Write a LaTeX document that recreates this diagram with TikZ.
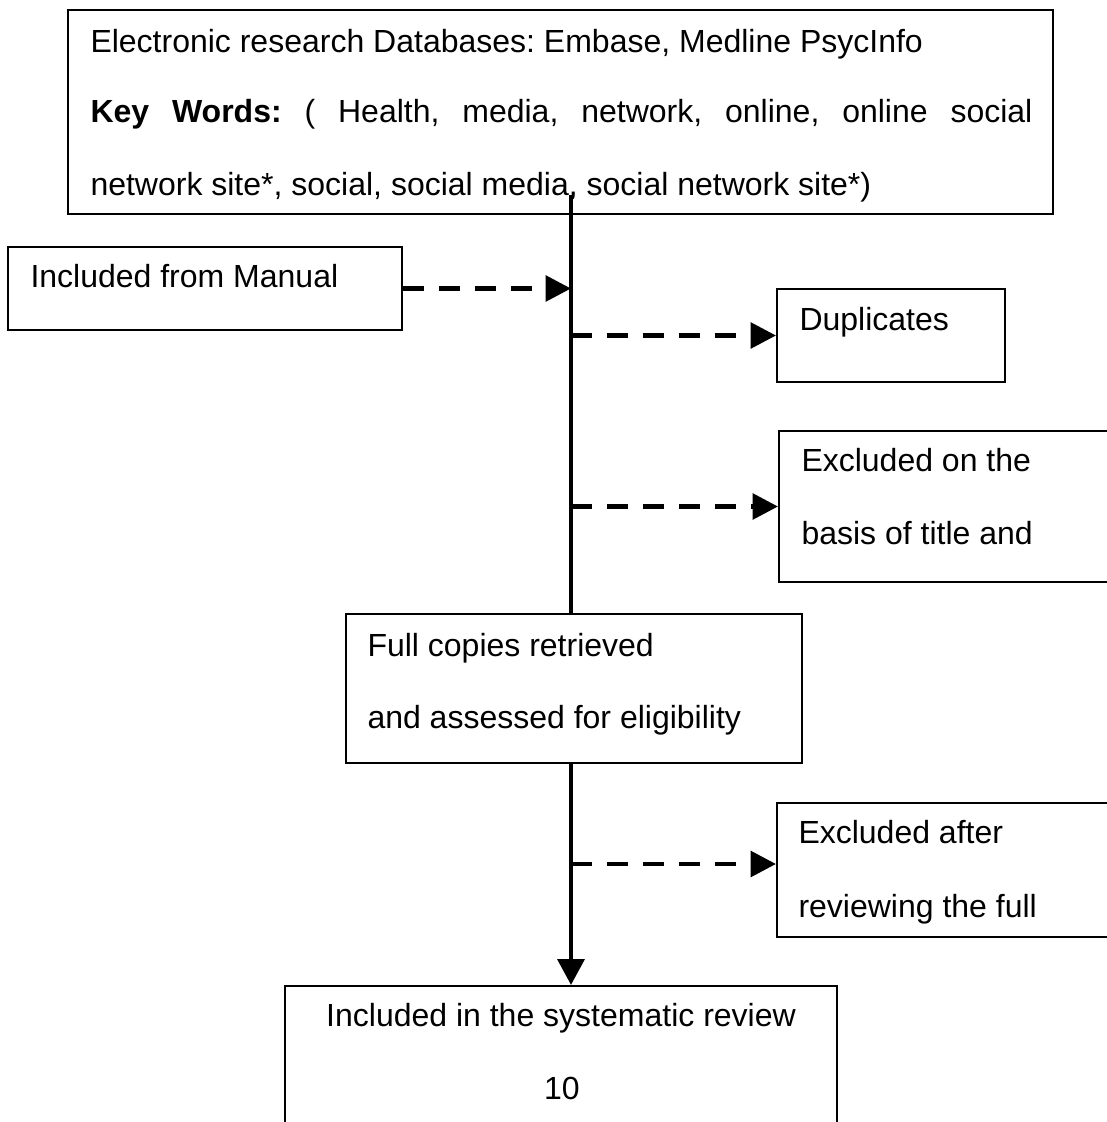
\documentclass[tikz,border=0pt]{standalone}
\usepackage{fontspec}
\setmainfont{Liberation Sans}
\usetikzlibrary{arrows.meta,fit}

\tikzset{every picture/.style={line width=0.75pt}}

\begin{document}
\begin{tikzpicture}[x=0.75pt,y=0.75pt,yscale=-1,xscale=1,
  box/.style={draw, line width=1.5pt, inner sep=0pt},
  txt/.style={anchor=base west, inner sep=0pt, font=\fontsize{24}{24}\selectfont\frenchspacing},
  spine/.style={line width=3.5pt},
  branch/.style={line width=3.5pt, dash pattern=on 15.5pt off 11.5pt, -{Triangle[length=19pt,width=19pt]}}]
%set diagram left start at 0, and has height of 1122
\useasboundingbox (0,0) rectangle (1107,1122);
\clip (0,0) rectangle (1107,1122);

%Shape: Rectangle [search]
\node[box, fit={(68,10) (1053,214)}] (search) {};
%Shape: Rectangle [manual]
\node[box, fit={(8,247) (402,330)}] (manual) {};
%Shape: Rectangle [dup]
\node[box, fit={(777,289) (1005,382)}] (dup) {};
%Shape: Rectangle [basis]
\node[box, fit={(779,431) (1125,582)}] (basis) {};
%Shape: Rectangle [full]
\node[box, fit={(346,614) (802,763)}] (full) {};
%Shape: Rectangle [exafter]
\node[box, fit={(777,803) (1125,937)}] (exafter) {};
%Shape: Rectangle [incl]
\node[box, fit={(285,986) (837,1140)}] (incl) {};

%Straight Lines
\coordinate (spinetop) at (571,195);
\draw[spine] (spinetop) -- (spinetop |- full.north);
\draw[spine, -{Triangle[length=19.5pt,width=20pt]}] (spinetop |- full.south) -- (spinetop |- incl.north);
%Dashed Lines
\draw[branch] (manual.east) -- (manual.east -| spinetop);
\draw[branch] (spinetop |- dup.west) -- (dup.west);
\draw[branch] (spinetop |- basis.west) -- (basis.west);
\coordinate (exin) at ([yshift=-4.5pt]exafter.west);
\draw[branch] (spinetop |- exin) -- (exin);

% Text Node
\node[txt] (search1) at (90,52) {Electronic research Databases: Embase, Medline PsycInfo};
% Text Node
\node[txt] (search2) at (90,122) {\makebox[706.5pt][s]{\textbf{Key Words:} ( Health, media, network, online, online social}};
% Text Node
\node[txt] (search3) at (90,195) {network site*, social, social media, social network site*)};
% Text Node
\node[txt] (manual1) at (30,287) {Included from Manual};
% Text Node
\node[txt] (dup1) at (799,330) {Duplicates};
% Text Node
\node[txt] (basis1) at (801,471) {Excluded on the};
% Text Node
\node[txt] (basis2) at (801,544) {basis of title and};
% Text Node
\node[txt] (full1) at (367,656) {Full copies retrieved};
% Text Node
\node[txt] (full2) at (367,728) {and assessed for eligibility};
% Text Node
\node[txt] (exafter1) at (798,843) {Excluded after};
% Text Node
\node[txt] (exafter2) at (798,917) {reviewing the full};
% Text Node
\node[txt, anchor=base] (incl1) at (561,1026) {Included in the systematic review};
% Text Node
\node[txt, anchor=base] (incl2) at (562,1099) {10};

\end{tikzpicture}
\end{document}
